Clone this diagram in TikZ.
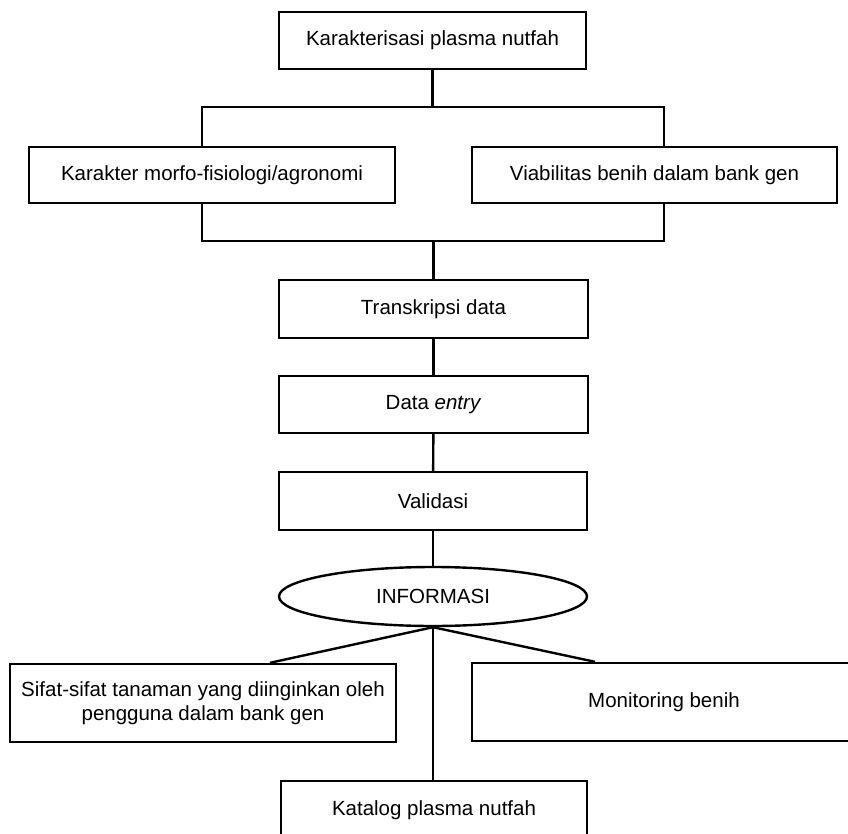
\documentclass[tikz,border=0pt]{standalone}
\usepackage{fontspec}
\setmainfont{Liberation Sans}
\usetikzlibrary{shapes.geometric}
\begin{document}
\begin{tikzpicture}[x=1pt,y=-1pt,line width=2.4pt,
  box/.style={draw,rectangle,inner sep=0pt,align=center,font=\fontsize{20.5}{24}\selectfont},
  oval/.style={draw,ellipse,inner sep=0pt,font=\fontsize{20.5}{24}\selectfont}]
\useasboundingbox (0,0) rectangle (848,834);
\clip (0,0) rectangle (848,834);
\node[box,minimum width=307pt,minimum height=57pt] (top) at (432.5,40.5) {Karakterisasi plasma nutfah};
\node[box,minimum width=366pt,minimum height=56pt] (morfo) at (212,175) {Karakter morfo-fisiologi/agronomi};
\node[box,minimum width=365pt,minimum height=56pt] (viab) at (654.5,175) {Viabilitas benih dalam bank gen};
\node[box,minimum width=309pt,minimum height=58pt] (trans) at (433.5,309) {Transkripsi data};
\node[box,minimum width=309pt,minimum height=57pt] (entry) at (433.5,404.5) {Data \textit{entry}};
\node[box,minimum width=308pt,minimum height=58pt] (valid) at (433,501) {Validasi};
\node[oval,minimum width=308pt,minimum height=59pt] (info) at (433,596.5) {INFORMASI};
\node[box,minimum width=386pt,minimum height=78pt] (sifat) at (203,703) {Sifat-sifat tanaman yang diinginkan oleh\\pengguna dalam bank gen};
\node[box,minimum width=384pt,minimum height=78pt] (monit) at (664,702) {Monitoring benih};
\node[box,minimum width=306pt,minimum height=58pt] (katalog) at (434,810) {Katalog plasma nutfah};
\coordinate (tl) at (202,107);
\coordinate (tr) at (664,107);
\coordinate (bl) at (202,241);
\coordinate (br) at (664,241);
\draw (top.south) -- (top.south |- tl);
\draw (morfo.north -| tl) -- (tl) -- (tr) -- (viab.north -| tr);
\draw (morfo.south -| bl) -- (bl) -- (br) -- (viab.south -| br);
\draw (bl -| trans.north) -- (trans.north);
\draw (trans) -- (entry);
\draw (entry) -- (valid);
\draw (valid) -- (info);
\draw (info.south) -- ([xshift=67pt]sifat.north);
\draw (info.south) -- ([xshift=-69pt]monit.north);
\draw (info.south) -- (info.south |- katalog.north);
\end{tikzpicture}
\end{document}
